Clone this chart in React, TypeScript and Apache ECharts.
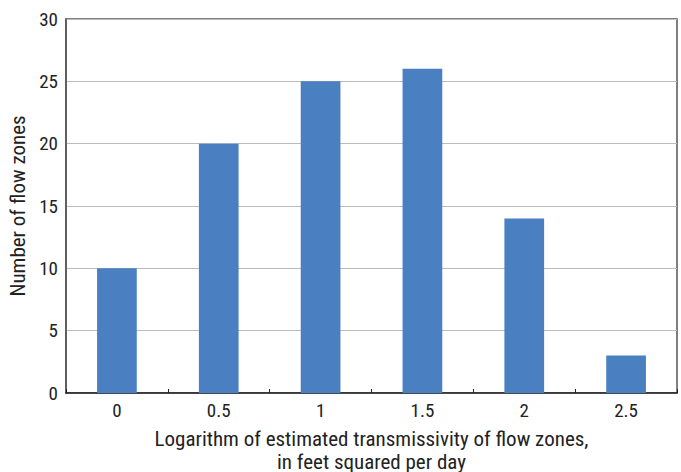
import React, { useEffect, useRef } from "react";
import * as echarts from "echarts";

const categories = ["0", "0.5", "1", "1.5", "2", "2.5"];
const counts = [10, 20, 25, 26, 14, 3];
const yTicks = { min: 0, max: 30, interval: 5 };
const xTitle = "Logarithm of estimated transmissivity of flow zones,\nin feet squared per day";
const yTitle = "Number of flow zones";

const FONT = "'Liberation Sans Narrow', 'Roboto Condensed', 'Liberation Sans', sans-serif";

export default function App() {
  const ref = useRef<HTMLDivElement>(null);
  useEffect(() => {
    if (!ref.current) return;
    const chart = echarts.init(ref.current, null, { renderer: "svg" });
    chart.setOption({
      animation: false,
      grid: {
        left: 66,
        right: 4,
        top: 19,
        bottom: 79,
        containLabel: false,
        outerBoundsMode: "none",
        show: true,
        borderColor: "#555",
        borderWidth: 1.5,
        backgroundColor: "transparent",
      },
      xAxis: {
        type: "category",
        data: categories,
        name: xTitle,
        nameLocation: "middle",
        nameGap: 34,
        nameTextStyle: { fontFamily: FONT, fontSize: 21, color: "#222", lineHeight: 23, verticalAlign: "top" },
        axisLine: { show: true, lineStyle: { color: "#222", width: 1.5 } },
        axisTick: { show: true, inside: true, length: 4, lineStyle: { color: "#222" } },
        axisLabel: { fontFamily: FONT, fontSize: 19, color: "#222", margin: 8 },
      },
      yAxis: {
        type: "value",
        min: yTicks.min,
        max: yTicks.max,
        interval: yTicks.interval,
        name: yTitle,
        nameLocation: "middle",
        nameGap: 30,
        nameTextStyle: { fontFamily: FONT, fontSize: 21, color: "#222" },
        axisLine: { show: true, lineStyle: { color: "#555", width: 1.5 } },
        axisTick: { show: false },
        axisLabel: { fontFamily: FONT, fontSize: 19, color: "#222", margin: 8 },
        splitLine: { show: true, lineStyle: { color: "#bbb", width: 1 } },
      },
      series: [
        {
          type: "bar",
          data: counts,
          barWidth: "39%",
          itemStyle: { color: "#4a80c2" },
        },
      ],
    });
    return () => chart.dispose();
  }, []);
  return <div ref={ref} style={{ width: 681, height: 472, position: "absolute", left: 0, top: 0 }} />;
}
